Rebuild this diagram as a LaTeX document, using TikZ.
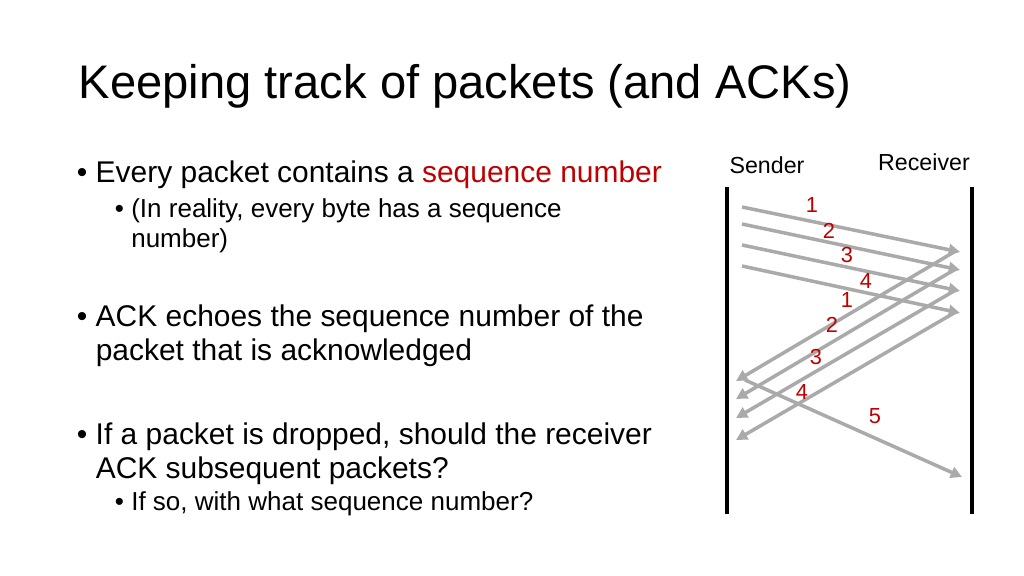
\documentclass[tikz,border=0pt]{standalone}
\usepackage{fontspec}
\setmainfont{Liberation Sans}
\usetikzlibrary{arrows.meta}
\usetikzlibrary{calc}
\definecolor{seqred}{RGB}{192,0,0}
\definecolor{pktgray}{RGB}{170,170,170}
\begin{document}
\begin{tikzpicture}[x=0.025cm, y=-0.025cm]
    \newcommand\tl{727}
    \newcommand\tr{972}
    \tikzset{
        pkt/.style={draw=pktgray, line width=2.5pt, -{Triangle[length=8pt, width=8pt]}},
        seq/.style={text=seqred, font=\fontsize{15.5}{17}\selectfont},
        who/.style={font=\fontsize{16.5}{18}\selectfont},
        bul/.style={anchor=north west, align=left, font=\fontsize{21.3}{24}\selectfont},
        subbul/.style={anchor=north west, align=left, font=\fontsize{18.5}{21}\selectfont}
    }
    \useasboundingbox[fill=white] (0, 0) rectangle (1024, 576);

    \node[anchor=west, font=\fontsize{33.5}{38}\selectfont] (title) at (74, 86)
        {Keeping track of packets (and ACKs)};

    \node[bul] (b1) at (72, 156) {\textbullet\ Every packet contains a \textcolor{seqred}{sequence number}};
    \node[subbul] (b1a) at (110, 194) {\textbullet\ (In reality, every byte has a sequence\\\hphantom{\textbullet\ }number)};
    \node[bul] (b2) at (72, 300) {\textbullet\ ACK echoes the sequence number of the\\\hphantom{\textbullet\ }packet that is acknowledged};
    \node[bul] (b3) at (72, 418) {\textbullet\ If a packet is dropped, should the receiver\\\hphantom{\textbullet\ }ACK subsequent packets?};
    \node[subbul] (b3a) at (110, 487) {\textbullet\ If so, with what sequence number?};

    % time lines
    \draw[line width=2.8pt] (\tl, 187) coordinate (snd-top) -- (\tl, 514) coordinate (snd-bot);
    \draw[line width=2.8pt] (\tr, 187) coordinate (rcv-top) -- (\tr, 514) coordinate (rcv-bot);
    \node[who] (sender) at (767, 165) {Sender};
    \node[who] (receiver) at (924, 162) {Receiver};

    % data packets
    \foreach \i/\ya/\yb in {1/207/252, 2/224/270, 3/245/291, 4/266/313} {
        \coordinate (out-\i) at (742, \ya);
        \coordinate (in-\i) at (960, \yb);
        \draw[pkt] (out-\i) -- (in-\i);
    }
    % acks
    \foreach \i/\yb in {1/381, 2/399, 3/418, 4/440} {
        \coordinate (ack-\i) at (736, \yb);
        \draw[pkt] ($(in-\i)+(-6,0)$) -- (ack-\i);
    }
    % packet 5
    \coordinate (out-5) at (745, 380);
    \coordinate (in-5) at (962, 477);
    \draw[pkt] (out-5) -- (in-5);

    \foreach \i/\x/\y in {1/812/205, 2/829/231, 3/847/255, 4/866/281} {
        \node[seq] (dl-\i) at (\x, \y) {\i};
    }
    \foreach \i/\x/\y in {1/847/300, 2/832/325, 3/816/357, 4/802/392} {
        \node[seq] (al-\i) at (\x, \y) {\i};
    }
    \node[seq] (dl-5) at (875, 416) {5};
\end{tikzpicture}
\end{document}
